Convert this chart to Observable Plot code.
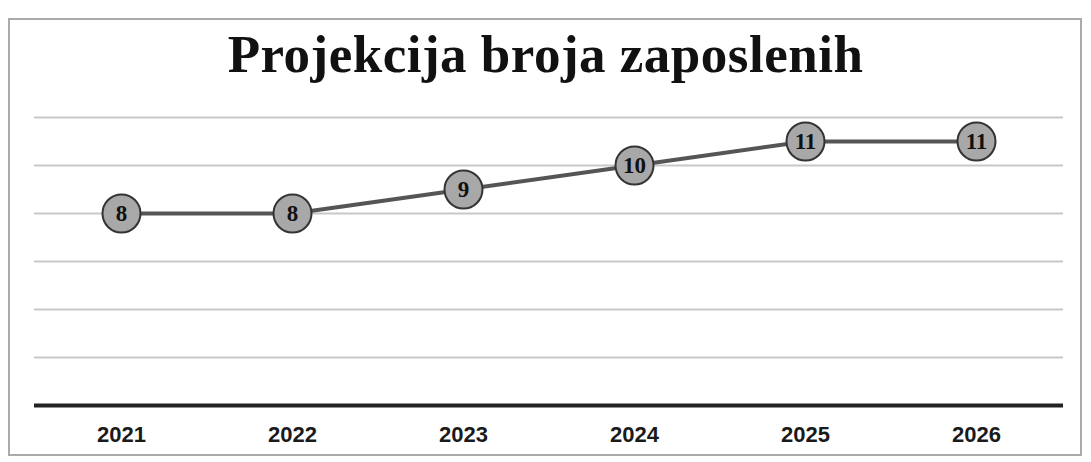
<!DOCTYPE html>
<html>
<head>
<meta charset="utf-8">
<script src="https://cdn.jsdelivr.net/npm/d3@7"></script>
<script src="https://cdn.jsdelivr.net/npm/@observablehq/plot@0.6"></script>
<style>
  html, body { margin: 0; padding: 0; background: #fff; }
  #wrap { position: relative; width: 1091px; height: 462px; overflow: hidden; background: #fff; }
  #frame { position: absolute; left: 8px; top: 18px; width: 1074px; height: 438px; border: 2px solid #aaa; box-sizing: border-box; }
  #title { position: absolute; left: 0; top: 24px; width: 1091px; text-align: center;
           font-family: "Liberation Serif", "DejaVu Serif", serif; font-weight: bold; font-size: 53px; color: #111; letter-spacing: 0.5px; }
  #chart { position: absolute; left: 0; top: 100px; }
</style>
</head>
<body>
<div id="wrap">
  <div id="frame"></div>
  <div id="title">Projekcija broja zaposlenih</div>
  <div id="chart"></div>
</div>
<script>
const years = ["2021", "2022", "2023", "2024", "2025", "2026"];
const employees = [8, 8, 9, 10, 11, 11];
const gridTicks = [2, 4, 6, 8, 10, 12];

const data = years.map((y, i) => ({year: y, value: employees[i]}));

const chart = Plot.plot({
  width: 1091,
  height: 362,
  marginLeft: 34,
  marginRight: 28,
  marginTop: 17,
  marginBottom: 57,
  x: {type: "point", domain: years, padding: 0.5, label: null},
  y: {domain: [0, 12], axis: null},
  style: {background: "transparent"},
  marks: [
    Plot.ruleY(gridTicks, {stroke: "#c8c8c8", strokeWidth: 2}),
    Plot.ruleY([0], {stroke: "#222", strokeWidth: 4}),
    Plot.axisX({tickSize: 0, tickPadding: 21, fontSize: 22, fontFamily: "Liberation Sans, Arial, sans-serif", fontWeight: "bold", fill: "#1a1a1a", label: null}),
    Plot.line(data, {x: "year", y: "value", stroke: "#555", strokeWidth: 4}),
    Plot.dot(data, {x: "year", y: "value", r: 19, fill: "#a8a8a8", stroke: "#333", strokeWidth: 2}),
    Plot.text(data, {x: "year", y: "value", text: d => String(d.value), fontSize: 23, fontWeight: "bold", fontFamily: "Liberation Serif, DejaVu Serif, serif", fill: "#111"})
  ]
});
document.getElementById("chart").appendChild(chart);
</script>
</body>
</html>
